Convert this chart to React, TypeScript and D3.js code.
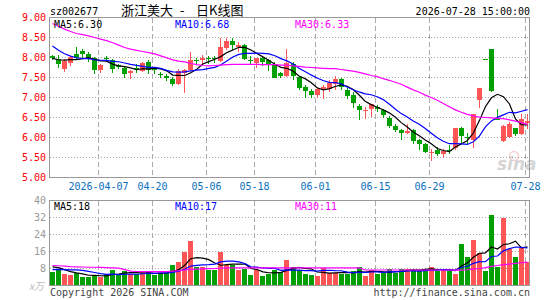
import React from "react";
import * as d3 from "d3";

// ---- data ----
const dates = [
  "2026-03-25", "2026-03-26", "2026-03-27", "2026-03-30", "2026-03-31", "2026-04-01", "2026-04-02", "2026-04-03",
  "2026-04-07", "2026-04-08", "2026-04-09", "2026-04-10", "2026-04-13", "2026-04-14", "2026-04-15", "2026-04-16",
  "2026-04-17", "2026-04-20", "2026-04-21", "2026-04-22", "2026-04-23", "2026-04-24", "2026-04-27", "2026-04-28",
  "2026-04-29", "2026-04-30", "2026-05-06", "2026-05-07", "2026-05-08", "2026-05-11", "2026-05-12", "2026-05-13",
  "2026-05-14", "2026-05-15", "2026-05-18", "2026-05-19", "2026-05-20", "2026-05-21", "2026-05-22", "2026-05-25",
  "2026-05-26", "2026-05-27", "2026-05-28", "2026-05-29", "2026-06-01", "2026-06-02", "2026-06-03", "2026-06-04",
  "2026-06-05", "2026-06-08", "2026-06-09", "2026-06-10", "2026-06-11", "2026-06-12", "2026-06-15", "2026-06-16",
  "2026-06-17", "2026-06-18", "2026-06-22", "2026-06-23", "2026-06-24", "2026-06-25", "2026-06-26", "2026-06-29",
  "2026-06-30", "2026-07-01", "2026-07-02", "2026-07-03", "2026-07-06", "2026-07-07", "2026-07-08", "2026-07-09",
  "2026-07-17", "2026-07-20", "2026-07-21", "2026-07-22", "2026-07-23", "2026-07-24", "2026-07-27", "2026-07-28",
];

const opens = [
  8.04, 7.96, 7.71, 7.87, 8.08, 8.17, 8.08, 7.98, 7.69, 7.98, 7.94, 7.81, 7.75, 7.62, 7.75, 7.67,
  7.88, 7.72, 7.60, 7.55, 7.47, 7.34, 7.62, 7.69, 7.93, 7.94, 7.98, 7.98, 7.91, 8.25, 8.42, 8.26,
  8.31, 7.94, 7.86, 7.99, 7.93, 7.85, 7.62, 7.54, 7.85, 7.51, 7.26, 7.16, 7.06, 7.21, 7.21, 7.34,
  7.46, 7.18, 7.06, 6.78, 6.67, 6.71, 6.76, 6.68, 6.48, 6.29, 6.18, 6.12, 6.18, 5.93, 5.83, 5.63,
  5.69, 5.58, 5.70, 5.73, 6.23, 6.02, 5.95, 6.93, 7.96, 8.21, 6.50, 5.91, 6.02, 6.23, 6.08, 6.36,
];
const highs = [
  8.07, 8.07, 7.96, 8.03, 8.26, 8.21, 8.14, 8.02, 7.85, 8.04, 7.97, 7.84, 7.77, 7.69, 7.85, 7.89,
  7.94, 7.77, 7.64, 7.58, 7.51, 7.71, 7.71, 8.14, 7.99, 8.06, 8.04, 8.04, 8.48, 8.48, 8.50, 8.38,
  8.33, 8.03, 7.99, 8.03, 7.96, 7.89, 7.63, 8.21, 7.89, 7.54, 7.31, 7.22, 7.27, 7.31, 7.43, 7.53,
  7.50, 7.24, 7.13, 6.85, 6.77, 6.85, 6.81, 6.71, 6.54, 6.33, 6.21, 6.35, 6.22, 5.97, 5.87, 5.72,
  5.77, 5.71, 5.82, 6.24, 6.27, 6.12, 6.59, 7.24, 7.96, 8.21, 6.71, 6.31, 6.38, 6.25, 6.58, 6.58,
];
const lows = [
  7.95, 7.74, 7.64, 7.79, 7.97, 7.97, 7.89, 7.59, 7.62, 7.89, 7.62, 7.71, 7.49, 7.47, 7.61, 7.64,
  7.60, 7.59, 7.50, 7.41, 7.29, 7.31, 7.12, 7.67, 7.83, 7.85, 7.85, 7.87, 7.89, 8.18, 8.18, 8.13,
  7.93, 7.83, 7.73, 7.79, 7.67, 7.48, 7.50, 7.52, 7.43, 7.18, 6.99, 6.99, 6.99, 6.96, 7.14, 7.18,
  7.18, 6.97, 6.75, 6.43, 6.47, 6.52, 6.64, 6.49, 6.24, 6.14, 5.94, 6.08, 5.85, 5.68, 5.62, 5.42,
  5.54, 5.48, 5.58, 5.68, 5.84, 5.81, 5.75, 6.74, 7.96, 7.14, 6.45, 5.90, 6.00, 6.05, 6.06, 6.22,
];
const closes = [
  7.99, 7.83, 7.91, 8.01, 8.00, 8.09, 7.97, 7.69, 7.82, 7.97, 7.72, 7.76, 7.59, 7.67, 7.73, 7.87,
  7.69, 7.70, 7.59, 7.48, 7.34, 7.66, 7.68, 7.93, 7.92, 7.99, 7.97, 7.97, 8.26, 8.42, 8.32, 8.31,
  7.96, 7.93, 7.99, 7.89, 7.85, 7.50, 7.54, 7.87, 7.54, 7.24, 7.17, 7.06, 7.21, 7.27, 7.37, 7.46,
  7.26, 7.04, 6.87, 6.68, 6.69, 6.83, 6.71, 6.56, 6.29, 6.18, 6.12, 6.17, 5.92, 5.83, 5.65, 5.65,
  5.58, 5.66, 5.69, 6.23, 6.04, 6.01, 6.59, 7.24, 7.96, 7.16, 6.45, 6.29, 6.33, 6.08, 6.46, 6.41,
];
// closes before the first visible day, only used for the moving averages
const priorCloses = [8.9, 8.8, 8.6, 8.4, 8.3, 8.0, 7.95, 7.95, 8.0];

const ma30Price = [
  8.85, 8.78, 8.71, 8.65, 8.60, 8.57, 8.54, 8.50, 8.46, 8.42, 8.37, 8.31, 8.25, 8.21, 8.18, 8.15,
  8.12, 8.09, 8.04, 7.99, 7.94, 7.91, 7.89, 7.85, 7.82, 7.80, 7.79, 7.80, 7.81, 7.82, 7.83, 7.83,
  7.83, 7.83, 7.83, 7.82, 7.82, 7.82, 7.81, 7.81, 7.79, 7.78, 7.76, 7.75, 7.74, 7.73, 7.72, 7.72,
  7.70, 7.68, 7.66, 7.63, 7.59, 7.55, 7.52, 7.47, 7.43, 7.38, 7.33, 7.26, 7.19, 7.13, 7.06, 7.00,
  6.93, 6.85, 6.77, 6.69, 6.63, 6.58, 6.54, 6.51, 6.50, 6.49, 6.48, 6.47, 6.44, 6.41, 6.37, 6.33,
];

// volume, 万手
const volumes = [
  6.5, 7.2, 5.3, 4.8, 6.0, 4.0, 4.0, 5.0, 4.0, 5.5, 7.3, 5.3, 7.0, 5.5, 5.3, 6.3,
  6.3, 5.0, 5.5, 6.0, 9.8, 10.9, 15.6, 20.8, 8.5, 8.5, 7.5, 7.5, 15.7, 9.8, 9.8, 7.5,
  7.8, 5.0, 7.5, 4.4, 5.3, 7.5, 6.3, 12.2, 8.9, 7.5, 5.6, 5.0, 4.7, 8.1, 5.9, 5.9,
  5.6, 5.6, 6.9, 8.9, 4.7, 7.2, 5.6, 5.8, 7.8, 5.9, 7.8, 7.8, 7.5, 7.5, 7.5, 8.6,
  6.6, 7.5, 6.6, 5.6, 19.6, 13.6, 21.2, 15.4, 7.0, 33.4, 8.9, 31.7, 17.2, 13.2, 17.6, 11.0,
];
const priorVolumes = [6.0, 6.5, 6.0, 6.5, 6.0, 9.0, 10.0, 9.5, 9.0];

const ma30Volume = [
  9.4, 9.3, 9.1, 8.9, 8.8, 8.7, 8.6, 8.6, 8.5, 8.4, 8.3, 8.2, 7.5, 6.8, 6.6, 6.5,
  6.5, 6.5, 6.5, 6.6, 6.8, 7.0, 7.3, 7.6, 7.7, 7.8, 7.9, 8.0, 8.2, 8.3, 8.3, 8.3,
  8.3, 8.3, 8.3, 8.3, 8.3, 8.3, 8.3, 8.3, 8.3, 8.3, 8.3, 8.3, 8.3, 8.3, 8.3, 8.3,
  8.3, 8.3, 8.3, 8.3, 7.3, 7.3, 7.3, 7.3, 7.3, 7.3, 7.3, 7.3, 7.3, 7.3, 7.3, 7.3,
  7.3, 7.3, 7.3, 7.2, 7.2, 7.4, 7.7, 8.0, 8.4, 9.0, 9.4, 9.8, 10.1, 10.4, 10.7, 11.0,
];

const tickDates = ["2026-04-07", "2026-04-20", "2026-05-06", "2026-05-18", "2026-06-01", "2026-06-15", "2026-06-29", "2026-07-28"];
const priceTicks = [5, 5.5, 6, 6.5, 7, 7.5, 8, 8.5, 9];
const volumeTicks = [8, 16, 24, 32, 40];
const priceMaLabels = ["MA5:6.30", "MA10:6.68", "MA30:6.33"];
const volumeMaLabels = ["MA5:18", "MA10:17", "MA30:11"];

// ---- drawing ----
const W = 545;
const H = 300;
const LEFT = 50;
const RIGHT = 530;
const UP = "#ff5555";
const DOWN = "#00a000";
const MA_COLORS = ["#000000", "#0000ff", "#ff00ff"];
const MONO = "'DejaVu Sans Mono', 'Liberation Mono', monospace";
const CJK = "'Noto Sans CJK SC', sans-serif";
const GRID = "#aaaaaa";

const movingAvg = (series: number[], prior: number[], n: number) => {
  const all = prior.concat(series);
  return series.map((_, i) => {
    const j = i + prior.length;
    return d3.mean(all.slice(j - n + 1, j + 1)) as number;
  });
};

export default function App() {
  const x = d3.scaleBand().domain(dates).range([LEFT, RIGHT]).paddingInner(1 / 6).paddingOuter(0);
  const bw = x.bandwidth();
  const cx = (i: number) => (x(dates[i]) as number) + bw / 2;

  const yP = d3.scaleLinear().domain([5, 9]).range([177.5, 17.5]);
  const yV = d3.scaleLinear().domain([0, 40]).range([285.5, 200.5]);

  const priceMas = [movingAvg(closes, priorCloses, 5), movingAvg(closes, priorCloses, 10), ma30Price];
  const volumeMas = [movingAvg(volumes, priorVolumes, 5), movingAvg(volumes, priorVolumes, 10), ma30Volume];

  const lineP = d3.line<number>().x((_, i) => cx(i)).y((d) => yP(d));
  const lineV = d3.line<number>().x((_, i) => cx(i)).y((d) => yV(d));

  const isUp = (i: number) => closes[i] > opens[i];
  const gridX = (d: string) => Math.round(x(d) as number) + 0.5;
  const maLabelX = [54, 175, 295];

  return (
    <svg width={W} height={H} style={{ position: "fixed", left: 0, top: 0, background: "#fff" }}>
      {/* header */}
      <text x={50} y={15} fontFamily={MONO} fontSize={10} fill="#000">sz002677</text>
      <text x={121} y={15} fontFamily={CJK} fontSize={13} fill="#000">浙江美大</text>
      <text x={180} y={15} fontFamily={CJK} fontSize={13} fill="#000">-</text>
      <text x={196} y={15} fontFamily={CJK} fontSize={13} fill="#000">日K线图</text>
      <text x={530} y={15} fontFamily={MONO} fontSize={10} fill="#000" textAnchor="end">2026-07-28 15:00:00</text>

      {/* price panel grid */}
      {priceTicks.slice(1, -1).map((t) => (
        <line key={"pg" + t} x1={LEFT} x2={RIGHT} y1={yP(t)} y2={yP(t)} stroke={GRID} strokeDasharray="1,2" shapeRendering="crispEdges" />
      ))}
      {tickDates.map((d) => (
        <line key={"pv" + d} x1={gridX(d)} x2={gridX(d)} y1={yP(9)} y2={yP(5)} stroke={GRID} strokeDasharray="5,3" shapeRendering="crispEdges" />
      ))}
      <rect x={LEFT - 0.5} y={yP(9)} width={RIGHT - LEFT} height={yP(5) - yP(9)} fill="none" stroke="#999" shapeRendering="crispEdges" />

      {/* sina watermark */}
      <g opacity={0.35}>
        <circle cx={514} cy={156} r={4.5} fill="none" stroke="#e08080" strokeWidth={1.5} />
        <text x={497} y={170} fontFamily="'DejaVu Sans', sans-serif" fontStyle="italic" fontWeight="bold" fontSize={17} fill="#888">sina</text>
      </g>

      {/* price labels */}
      {priceTicks.map((t) => (
        <text key={"pl" + t} x={46} y={yP(t) + 3.5} fontFamily={MONO} fontSize={10} fill="#ff0000" textAnchor="end">
          {t.toFixed(2)}
        </text>
      ))}
      {tickDates.map((d, k) => (
        <text key={"xl" + d} x={gridX(d)} y={190} fontFamily={MONO} fontSize={10} fill="#0a70c0" textAnchor="middle">
          {k === 0 ? d : d.slice(5)}
        </text>
      ))}

      {/* candles */}
      {dates.map((d, i) => {
        const c = isUp(i) ? UP : DOWN;
        const top = yP(Math.max(opens[i], closes[i]));
        const bot = yP(Math.min(opens[i], closes[i]));
        return (
          <g key={"c" + d} shapeRendering="crispEdges">
            <line x1={cx(i)} x2={cx(i)} y1={yP(highs[i])} y2={yP(lows[i])} stroke={c} />
            <rect x={x(d)} y={top} width={bw} height={Math.max(1, bot - top)} fill={c} />
          </g>
        );
      })}

      {/* price moving averages */}
      {priceMas.map((s, k) => (
        <path key={"pm" + k} d={lineP(s) as string} fill="none" stroke={MA_COLORS[k]} strokeWidth={1.2} />
      ))}
      {priceMaLabels.map((s, k) => (
        <text key={"pml" + k} x={maLabelX[k]} y={28} fontFamily={MONO} fontSize={10} fill={MA_COLORS[k]}>{s}</text>
      ))}

      {/* volume panel grid */}
      {volumeTicks.slice(0, -1).map((t) => (
        <line key={"vg" + t} x1={LEFT} x2={RIGHT} y1={yV(t)} y2={yV(t)} stroke={GRID} strokeDasharray="1,2" shapeRendering="crispEdges" />
      ))}
      {tickDates.map((d) => (
        <line key={"vv" + d} x1={gridX(d)} x2={gridX(d)} y1={yV(40)} y2={yV(0)} stroke={GRID} strokeDasharray="5,3" shapeRendering="crispEdges" />
      ))}
      {volumeTicks.map((t) => (
        <text key={"vl" + t} x={46} y={yV(t) + 3.5} fontFamily={MONO} fontSize={10} fill="#999" textAnchor="end">{t}</text>
      ))}

      {/* volume bars */}
      {dates.map((d, i) => (
        <rect key={"v" + d} x={x(d)} y={yV(volumes[i])} width={bw} height={yV(0) - yV(volumes[i])}
          fill={isUp(i) ? UP : DOWN} shapeRendering="crispEdges" />
      ))}
      {volumeMas.map((s, k) => (
        <path key={"vm" + k} d={lineV(s) as string} fill="none" stroke={MA_COLORS[k]} strokeWidth={1.2} />
      ))}
      <rect x={LEFT - 0.5} y={yV(40)} width={RIGHT - LEFT} height={yV(0) - yV(40)} fill="none" stroke="#999" shapeRendering="crispEdges" />
      {volumeMaLabels.map((s, k) => (
        <text key={"vml" + k} x={maLabelX[k]} y={209.5} fontFamily={MONO} fontSize={10} fill={MA_COLORS[k]}>{s}</text>
      ))}

      {/* footer */}
      <text x={29} y={290} fontFamily={CJK} fontSize={10} fill="#bbb" fontStyle="italic">x万</text>
      <text x={50} y={296} fontFamily={MONO} fontSize={10} fill="#444">Copyright 2026 SINA.COM</text>
      <text x={530} y={296} fontFamily={MONO} fontSize={10} fill="#444" textAnchor="end">http://finance.sina.com.cn</text>
    </svg>
  );
}
